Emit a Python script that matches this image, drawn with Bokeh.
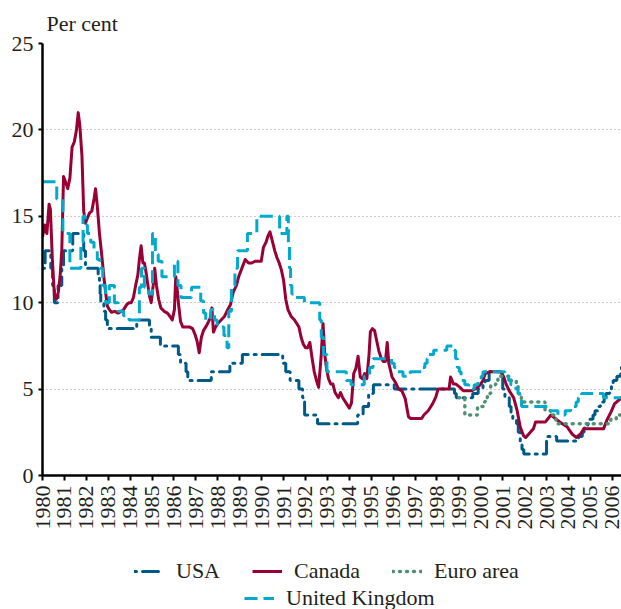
import math
from bokeh.plotting import figure
from bokeh.layouts import column
from bokeh.models import Range1d, Legend, LegendItem, FixedTicker
from bokeh.embed import file_html
from bokeh.resources import INLINE

# ---------------- data ----------------
year_ticks = list(range(1980, 2007))
value_ticks = [0, 5, 10, 15, 20, 25]

usa_t = [1980.00, 1980.12, 1980.38, 1980.46, 1980.54, 1980.71, 1980.88, 1980.96,
         1981.38, 1981.88, 1981.96, 1982.54, 1982.60, 1982.63, 1982.66, 1982.80,
         1982.88, 1982.96, 1984.30, 1984.88, 1984.96, 1985.38, 1986.20, 1986.30,
         1986.55, 1986.63, 1987.70, 1988.55, 1989.12, 1990.96, 1991.10, 1991.30,
         1991.70, 1991.87, 1991.96, 1992.55, 1994.38, 1994.63, 1994.88, 1995.10,
         1996.05, 1998.80, 1998.88, 1999.63, 1999.88, 2000.10, 2000.20, 2000.38,
         2001.00, 2001.10, 2001.30, 2001.38, 2001.46, 2001.63, 2001.71, 2001.80,
         2001.88, 2001.96, 2003.00, 2003.46, 2004.46, 2004.63, 2004.71, 2004.88,
         2004.96, 2005.12, 2005.21, 2005.38, 2005.46, 2005.63, 2005.71, 2005.88,
         2005.96, 2006.04, 2006.21, 2006.38, 2006.42]
usa_v = [12.0, 13.0, 12.0, 11.0, 10.0, 11.0, 12.0, 13.0,
         14.0, 13.0, 12.0, 11.5, 11.0, 10.5, 10.0, 9.5,
         9.0, 8.5, 9.0, 8.5, 8.0, 7.5, 7.0, 6.5,
         6.0, 5.5, 6.0, 6.5, 7.0, 6.5, 6.0, 5.5,
         5.0, 4.5, 3.5, 3.0, 3.5, 4.0, 4.75, 5.25,
         5.0, 4.75, 4.5, 4.75, 5.0, 5.25, 5.5, 6.0,
         5.0, 4.5, 4.0, 3.5, 3.25, 3.0, 2.5, 2.0,
         1.5, 1.25, 2.25, 2.0, 2.25, 2.5, 2.75, 3.0,
         3.25, 3.5, 3.75, 4.0, 4.25, 4.5, 4.75, 5.0,
         5.25, 5.5, 5.75, 6.0, 6.25]

canada_t = [1980.00, 1980.10, 1980.20, 1980.30, 1980.36, 1980.45, 1980.55, 1980.63,
            1980.72, 1980.80, 1980.88, 1980.96, 1981.05, 1981.15, 1981.25, 1981.35,
            1981.45, 1981.55, 1981.63, 1981.70, 1981.80, 1981.88, 1981.96, 1982.05,
            1982.15, 1982.25, 1982.35, 1982.42, 1982.50, 1982.60, 1982.70, 1982.80,
            1982.88, 1982.96, 1983.05, 1983.15, 1983.30, 1983.45, 1983.60, 1983.70,
            1983.85, 1983.95, 1984.05, 1984.15, 1984.25, 1984.35, 1984.42, 1984.50,
            1984.58, 1984.65, 1984.72, 1984.80, 1984.88, 1984.96, 1985.05, 1985.12,
            1985.20, 1985.30, 1985.40, 1985.55, 1985.70, 1985.82, 1985.92, 1986.02,
            1986.08, 1986.13, 1986.20, 1986.30, 1986.40, 1986.55, 1986.70, 1986.85,
            1986.95, 1987.05, 1987.15, 1987.25, 1987.35, 1987.50, 1987.65, 1987.73,
            1987.80, 1987.90, 1988.00, 1988.15, 1988.30, 1988.45, 1988.58, 1988.70,
            1988.85, 1988.95, 1989.10, 1989.25, 1989.40, 1989.55, 1989.70, 1989.85,
            1989.98, 1990.08, 1990.20, 1990.30, 1990.38, 1990.48, 1990.60, 1990.70,
            1990.80, 1990.90, 1991.00, 1991.10, 1991.20, 1991.35, 1991.50, 1991.60,
            1991.70, 1991.80, 1991.90, 1992.00, 1992.10, 1992.20, 1992.30, 1992.40,
            1992.50, 1992.60, 1992.72, 1992.80, 1992.88, 1992.96, 1993.05, 1993.15,
            1993.25, 1993.35, 1993.50, 1993.60, 1993.70, 1993.85, 1994.00, 1994.10,
            1994.20, 1994.30, 1994.40, 1994.50, 1994.60, 1994.70, 1994.80, 1994.90,
            1994.96, 1995.05, 1995.15, 1995.25, 1995.35, 1995.45, 1995.55, 1995.65,
            1995.73, 1995.80, 1995.95, 1996.10, 1996.25, 1996.40, 1996.55, 1996.70,
            1996.80, 1997.30, 1997.40, 1997.60, 1997.80, 1997.95, 1998.05, 1998.55,
            1998.62, 1998.75, 1998.85, 1999.05, 1999.20, 1999.60, 1999.85, 2000.00,
            2000.10, 2000.20, 2000.40, 2000.90, 2001.05, 2001.15, 2001.30, 2001.50,
            2001.65, 2001.80, 2001.95, 2002.05, 2002.26, 2002.40, 2002.50, 2002.95,
            2003.20, 2003.40, 2003.60, 2003.95, 2004.17, 2004.35, 2004.55, 2004.70,
            2005.60, 2005.75, 2005.95, 2006.10, 2006.42]
canada_v = [13.8, 14.5, 14.0, 15.7, 15.4, 12.5, 10.3, 10.2,
            10.6, 11.5, 13.0, 17.3, 17.0, 16.6, 17.2, 19.0,
            19.3, 20.0, 21.0, 20.3, 18.5, 15.3, 14.6, 14.9,
            15.2, 15.3, 16.0, 16.6, 15.6, 14.0, 12.8, 11.5,
            10.6, 9.8, 9.6, 9.45, 9.5, 9.4, 9.5, 9.6,
            9.9, 10.0, 10.0, 10.3, 11.0, 11.6, 12.5, 13.3,
            12.3, 12.3, 11.8, 11.1, 10.4, 10.0, 11.0, 12.0,
            11.0, 10.2, 9.7, 9.5, 9.4, 9.2, 9.0, 9.6,
            11.5, 11.0, 10.0, 8.9, 8.6, 8.6, 8.6, 8.5,
            8.2, 7.8, 7.1, 8.0, 8.4, 8.7, 9.1, 9.7,
            8.3, 8.6, 8.8, 9.0, 9.2, 9.6, 9.9, 10.6,
            11.0, 11.5, 12.0, 12.5, 12.3, 12.3, 12.4, 12.4,
            12.4, 13.2, 13.5, 13.9, 14.1, 13.6, 13.0, 12.6,
            12.3, 11.9, 11.3, 10.2, 9.6, 9.2, 9.0, 8.8,
            8.6, 8.0, 7.6, 7.4, 7.4, 7.7, 6.8, 6.0,
            5.5, 5.1, 7.0, 8.8, 7.0, 6.2, 5.6, 5.3,
            5.3, 4.8, 4.5, 4.8, 4.5, 4.2, 3.9, 4.2,
            5.9, 6.2, 6.9, 5.7, 5.6, 5.9, 5.6, 7.0,
            8.3, 8.5, 8.4, 7.8, 7.2, 6.8, 6.6, 6.6,
            7.7, 6.5, 5.7, 5.4, 5.0, 4.9, 4.45, 3.4,
            3.3, 3.3, 3.5, 3.75, 4.15, 4.55, 5.0, 5.0,
            5.7, 5.3, 5.3, 5.1, 4.9, 4.9, 5.1, 5.3,
            5.5, 5.9, 6.0, 6.0, 5.7, 5.3, 4.9, 4.5,
            3.8, 2.8, 2.3, 2.2, 2.5, 2.7, 3.1, 3.1,
            3.5, 3.3, 3.1, 2.8, 2.4, 2.2, 2.4, 2.7,
            2.7, 3.2, 3.7, 4.15, 4.5]

euro_t = [1999.00, 1999.27, 1999.85, 2000.10, 2000.20, 2000.30, 2000.45, 2000.68,
          2000.78, 2001.37, 2001.62, 2001.70, 2001.85, 2002.93, 2003.18, 2003.43,
          2005.93, 2006.18, 2006.42]
euro_v = [4.5, 3.5, 4.0, 4.25, 4.5, 4.75, 5.25, 5.5,
          5.75, 5.5, 5.25, 4.75, 4.25, 3.75, 3.5, 3.0,
          3.25, 3.5, 3.5]

uk_t = [1980.00, 1980.65, 1980.93, 1981.25, 1981.75, 1981.85, 1981.95, 1982.05,
        1982.20, 1982.35, 1982.50, 1982.62, 1982.75, 1982.88, 1983.05, 1983.28,
        1983.45, 1983.70, 1983.95, 1984.42, 1984.52, 1984.65, 1984.85, 1985.02,
        1985.15, 1985.28, 1985.45, 1986.02, 1986.18, 1986.32, 1986.80, 1987.22,
        1987.35, 1987.45, 1987.68, 1987.85, 1987.97, 1988.28, 1988.42, 1988.50,
        1988.62, 1988.78, 1988.90, 1989.35, 1989.78, 1990.82, 1991.15, 1991.22,
        1991.27, 1991.32, 1991.38, 1991.50, 1991.95, 1992.65, 1992.72, 1992.82,
        1992.98, 1993.86, 1994.08, 1994.68, 1994.92, 1995.08, 1995.93, 1996.05,
        1996.20, 1996.45, 1996.78, 1997.33, 1997.45, 1997.55, 1997.62, 1997.85,
        1998.45, 1998.78, 1998.85, 1998.93, 1999.02, 1999.10, 1999.27, 1999.45,
        1999.70, 1999.87, 2000.02, 2000.10, 2001.10, 2001.27, 2001.37, 2001.60,
        2001.70, 2001.78, 2001.86, 2003.10, 2003.52, 2003.85, 2004.10, 2004.35,
        2004.45, 2004.60, 2005.60, 2006.42]
uk_v = [17.0, 16.0, 14.0, 12.0, 13.5, 15.0, 14.5, 14.0,
        13.5, 13.0, 12.5, 12.0, 11.0, 10.0, 11.0, 10.0,
        9.5, 9.25, 9.0, 10.9, 12.0, 10.9, 10.5, 14.0,
        12.8, 12.4, 11.5, 12.4, 11.0, 10.3, 10.9, 10.1,
        9.4, 9.0, 9.6, 9.0, 8.6, 8.1, 7.4, 9.5,
        11.0, 12.0, 13.0, 14.0, 15.0, 14.0, 15.0, 13.5,
        12.0, 11.0, 10.5, 10.3, 10.0, 9.0, 8.0, 7.0,
        6.0, 5.5, 5.25, 5.75, 6.25, 6.75, 6.5, 6.25,
        6.0, 5.75, 6.0, 6.25, 6.5, 6.75, 7.0, 7.25,
        7.5, 7.25, 6.75, 6.25, 6.0, 5.5, 5.25, 5.0,
        5.25, 5.5, 5.75, 6.0, 5.75, 5.5, 5.25, 5.0,
        4.75, 4.5, 4.0, 3.75, 3.5, 3.75, 4.0, 4.25,
        4.5, 4.75, 4.5, 4.5]

series_names = ["USA", "Canada", "Euro area", "United Kingdom"]
series_data = {"USA": (usa_t, usa_v), "Canada": (canada_t, canada_v),
               "Euro area": (euro_t, euro_v), "United Kingdom": (uk_t, uk_v)}

# ---------------- styling ----------------
FONT = "Liberation Serif"
TXT = "#231f20"
STYLES = {
    "USA": dict(line_color="#005a87", line_width=3, line_dash="2 6 16 6", line_cap="round"),
    "Canada": dict(line_color="#990033", line_width=3, line_join="round"),
    "Euro area": dict(line_color="#4f9273", line_width=3.5, line_dash="1 6", line_cap="round"),
    "United Kingdom": dict(line_color="#00aacc", line_width=3, line_dash="13 6"),
}

p = figure(width=621, height=545, output_backend="svg", toolbar_location=None,
           x_range=Range1d(1980, 2006.42), y_range=Range1d(0, 25),
           min_border_left=42, min_border_right=0, min_border_top=43,
           min_border_bottom=70)
p.outline_line_color = None
p.background_fill_color = "white"

p.title.text = "Per cent"
p.title.text_font = FONT
p.title.text_font_size = "22px"
p.title.text_font_style = "normal"
p.title.text_color = TXT
p.title.align = "left"
p.title.offset = 4
p.title.standoff = 16

p.xaxis.ticker = FixedTicker(ticks=year_ticks)
p.xaxis.major_label_orientation = math.pi / 2
p.yaxis.ticker = FixedTicker(ticks=value_ticks)
for ax in (p.xaxis, p.yaxis):
    ax.axis_line_color = "black"
    ax.axis_line_width = 2.5
    ax.major_tick_line_color = "black"
    ax.major_tick_line_width = 2
    ax.major_tick_in = 0
    ax.minor_tick_line_color = None
    ax.major_label_text_font = FONT
    ax.major_label_text_font_size = "22px"
    ax.major_label_text_color = TXT
p.xaxis.major_tick_out = 5
p.xaxis.major_label_standoff = 5
p.yaxis.major_tick_out = 4
p.yaxis.major_label_standoff = 5

p.xgrid.visible = False
p.ygrid.ticker = FixedTicker(ticks=value_ticks[1:])
p.ygrid.grid_line_color = "#9a9a9a"
p.ygrid.grid_line_dash = "1 3"
p.ygrid.grid_line_width = 1

p.step(usa_t, usa_v, mode="after", **STYLES["USA"])
p.line(canada_t, canada_v, **STYLES["Canada"])
p.step(euro_t, euro_v, mode="after", **STYLES["Euro area"])
p.step(uk_t, uk_v, mode="after", **STYLES["United Kingdom"])

# ---------------- legend strip below the chart ----------------
# its own ranges lie far from the data, so the key renderers draw nothing in it
lg = figure(width=621, height=64, output_backend="svg", toolbar_location=None,
            x_axis_type=None, y_axis_type=None,
            x_range=Range1d(0, 1), y_range=Range1d(100, 101),
            min_border_left=0, min_border_right=0, min_border_top=0,
            min_border_bottom=0)
lg.grid.visible = False
lg.outline_line_color = None

keys = {}
for name in series_names:
    t, v = series_data[name]
    keys[name] = lg.line(t, v, **STYLES[name])

def make_legend(names, loc):
    return Legend(items=[LegendItem(label=n, renderers=[keys[n]]) for n in names],
                  orientation="horizontal", location=loc,
                  spacing=32, glyph_width=30, glyph_height=24, label_height=24,
                  label_standoff=12, padding=0, margin=0,
                  border_line_color=None, background_fill_alpha=0,
                  label_text_font=FONT, label_text_font_size="22px",
                  label_text_color=TXT)

lg.add_layout(make_legend(series_names[:3], (92, 25)))
lg.add_layout(make_legend(series_names[3:], (202, -2)))

layout = column(p, lg, spacing=0)
open("out.html", "w").write(file_html(layout, INLINE))
